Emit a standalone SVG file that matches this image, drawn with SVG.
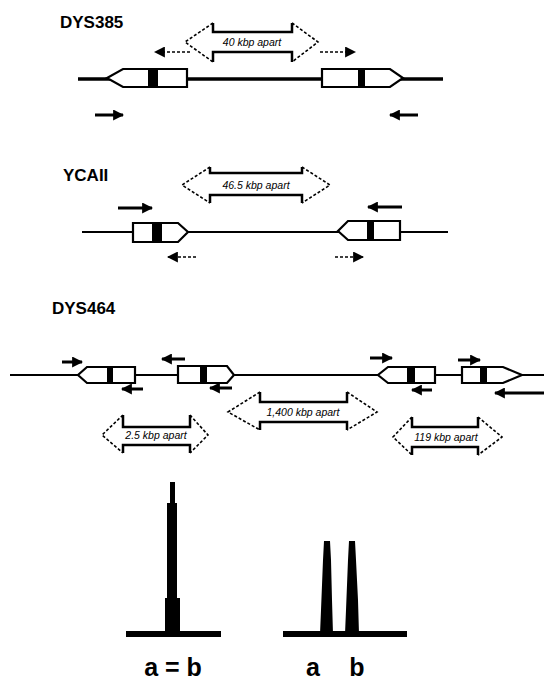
<svg xmlns="http://www.w3.org/2000/svg" width="544" height="683" viewBox="0 0 544 683">
<style>
.title{font-family:"Liberation Sans",Arial,sans-serif;font-weight:bold;font-size:17px;fill:#000}
.dist{font-family:"Liberation Sans",Arial,sans-serif;font-style:italic;font-size:10.5px;fill:#000;text-anchor:middle}
.lab{font-family:"Liberation Sans",Arial,sans-serif;font-weight:bold;font-size:25px;fill:#000;text-anchor:middle}
.dna{stroke:#000;fill:none}
.box{fill:#fff;stroke:#000;stroke-width:2.2}
.band{fill:#000}
.dfill{fill:#fff;stroke:none}
.dsolid{stroke:#000;stroke-width:2.5;fill:none}
.ddash{stroke:#000;stroke-width:1.6;stroke-dasharray:3 2;fill:none}
.pr{stroke:#000;stroke-width:3;fill:none;marker-end:url(#ah)}
.prd{stroke:#000;stroke-width:1.5;stroke-dasharray:3 2;fill:none;marker-end:url(#ah)}
.pk{fill:#000}
</style>
<defs>
<marker id="ah" viewBox="0 0 10 10" refX="9" refY="5" markerWidth="11" markerHeight="11" markerUnits="userSpaceOnUse" orient="auto">
<path d="M0,0 L10,5 L0,10 z" fill="#000"/>
</marker>
</defs>
<rect width="544" height="683" fill="#fff"/>

<!-- DYS385 -->
<g id="dys385">
<text class="title" x="60" y="28">DYS385</text>
<line class="dna" x1="78" y1="79" x2="443" y2="79" stroke-width="3.5"/>
<g id="dys385-a"><path class="box" d="M123,69 L187,69 L187,87 L123,87 L107,78 Z"/><rect class="band" x="148" y="70" width="10" height="16"/></g>
<g id="dys385-b"><path class="box" d="M322,69 L390,69 L403,78 L390,87 L322,87 Z"/><rect class="band" x="358" y="70" width="7" height="16"/></g>
<g id="dys385-dist">
<path class="dfill" d="M185,42 L213,23 L213,32 L292,32 L292,23 L318,42 L292,62 L292,52 L213,52 L213,62 Z"/>
<path class="dsolid" d="M213,23 L213,32 L292,32 L292,23 M213,62 L213,52 L292,52 L292,62"/>
<path class="ddash" d="M213,23 L185,42 L213,62 M292,23 L318,42 L292,62"/>
<text class="dist" x="252" y="46">40 kbp apart</text>
</g>
</g>

<!-- YCAII -->
<g id="ycaii">
<text class="title" x="63" y="181">YCAII</text>
<line class="dna" x1="82" y1="232" x2="448" y2="232" stroke-width="2"/>
<g id="ycaii-a"><path class="box" d="M133,223 L178,223 L188,232 L178,242 L133,242 Z"/><rect class="band" x="152" y="224" width="10" height="17"/></g>
<g id="ycaii-b"><path class="box" d="M348,221 L400,221 L400,240 L348,240 L338,231 Z"/><rect class="band" x="367" y="222" width="7" height="17"/></g>
<g id="ycaii-dist">
<path class="dfill" d="M182,185 L210,167 L210,173 L302,173 L302,167 L330,185 L302,203 L302,195 L210,195 L210,203 Z"/>
<path class="dsolid" d="M210,167 L210,173 L302,173 L302,167 M210,203 L210,195 L302,195 L302,203"/>
<path class="ddash" d="M210,167 L182,185 L210,203 M302,167 L330,185 L302,203"/>
<text class="dist" x="256" y="189">46.5 kbp apart</text>
</g>
</g>

<!-- DYS464 -->
<g id="dys464">
<text class="title" x="52" y="314">DYS464</text>
<line class="dna" x1="10" y1="375" x2="544" y2="375" stroke-width="2"/>
<g id="dys464-1"><path class="box" d="M87,367 L135,367 L135,383 L87,383 L78,375 Z"/><rect class="band" x="107" y="368" width="6" height="14"/></g>
<g id="dys464-2"><path class="box" d="M178,366 L227,366 L234,375 L227,383 L178,383 Z"/><rect class="band" x="200" y="367" width="7" height="15"/></g>
<g id="dys464-3"><path class="box" d="M388,367 L435,367 L435,383 L388,383 L378,375 Z"/><rect class="band" x="407" y="368" width="8" height="14"/></g>
<g id="dys464-4"><path class="box" d="M462,367 L503,367 L522,375 L503,383 L462,383 Z"/><rect class="band" x="480" y="368" width="7" height="14"/></g>
<g id="dys464-d1">
<path class="dfill" d="M102,435 L123,415 L123,427 L190,427 L190,415 L208,435 L190,453 L190,445 L123,445 L123,453 Z"/>
<path class="dsolid" d="M123,415 L123,427 L190,427 L190,415 M123,453 L123,445 L190,445 L190,453"/>
<path class="ddash" d="M123,415 L102,435 L123,453 M190,415 L208,435 L190,453"/>
<text class="dist" x="156" y="439">2.5 kbp apart</text>
</g>
<g id="dys464-d2">
<path class="dfill" d="M228,412 L260,392 L260,402 L347,402 L347,392 L377,412 L347,430 L347,422 L260,422 L260,430 Z"/>
<path class="dsolid" d="M260,392 L260,402 L347,402 L347,392 M260,430 L260,422 L347,422 L347,430"/>
<path class="ddash" d="M260,392 L228,412 L260,430 M347,392 L377,412 L347,430"/>
<text class="dist" x="303" y="416">1,400 kbp apart</text>
</g>
<g id="dys464-d3">
<path class="dfill" d="M393,437 L412,417 L412,427 L478,427 L478,417 L502,437 L478,455 L478,447 L412,447 L412,455 Z"/>
<path class="dsolid" d="M412,417 L412,427 L478,427 L478,417 M412,455 L412,447 L478,447 L478,455"/>
<path class="ddash" d="M412,417 L393,437 L412,455 M478,417 L502,437 L478,455"/>
<text class="dist" x="446" y="441">119 kbp apart</text>
</g>
</g>

<!-- primers -->
<g id="connectors">
<line class="prd" x1="190" y1="52" x2="155" y2="52"/>
<line class="prd" x1="320" y1="52" x2="355" y2="52"/>
<line class="pr" x1="95" y1="115" x2="123" y2="115"/>
<line class="pr" x1="418" y1="115" x2="390" y2="115"/>
<line class="pr" x1="118" y1="208" x2="152" y2="208"/>
<line class="pr" x1="402" y1="207" x2="368" y2="207"/>
<line class="prd" x1="196" y1="257" x2="168" y2="257"/>
<line class="prd" x1="335" y1="257" x2="363" y2="257"/>
<line class="pr" x1="62" y1="362" x2="82" y2="362"/>
<line class="pr" x1="143" y1="389" x2="122" y2="389"/>
<line class="pr" x1="185" y1="359" x2="162" y2="359"/>
<line class="pr" x1="232" y1="388" x2="210" y2="388"/>
<line class="pr" x1="370" y1="358" x2="392" y2="358"/>
<line class="pr" x1="432" y1="390" x2="412" y2="390"/>
<line class="pr" x1="458" y1="360" x2="480" y2="360"/>
<line class="pr" x1="544" y1="393" x2="495" y2="393"/>
</g>

<!-- electropherograms -->
<g id="peak-single">
<rect class="pk" x="126" y="631" width="95" height="6"/>
<path class="pk" d="M165,634 L165,598 L167,598 L167,503 L170,503 L170,482 L175,482 L175,503 L177,503 L177,598 L180,598 L180,634 Z"/>
<text class="lab" x="173" y="676">a = b</text>
</g>
<g id="peak-double">
<rect class="pk" x="283" y="631" width="124" height="6"/>
<path class="pk" d="M320,634 L321,610 L323,560 L324,541 L330,541 L331,560 L332,600 L333,634 Z"/>
<path class="pk" d="M345,634 L346,610 L348,560 L349,541 L355,541 L356,560 L358,600 L359,634 Z"/>
<text class="lab" x="313" y="676">a</text>
<text class="lab" x="357" y="676">b</text>
</g>
</svg>
